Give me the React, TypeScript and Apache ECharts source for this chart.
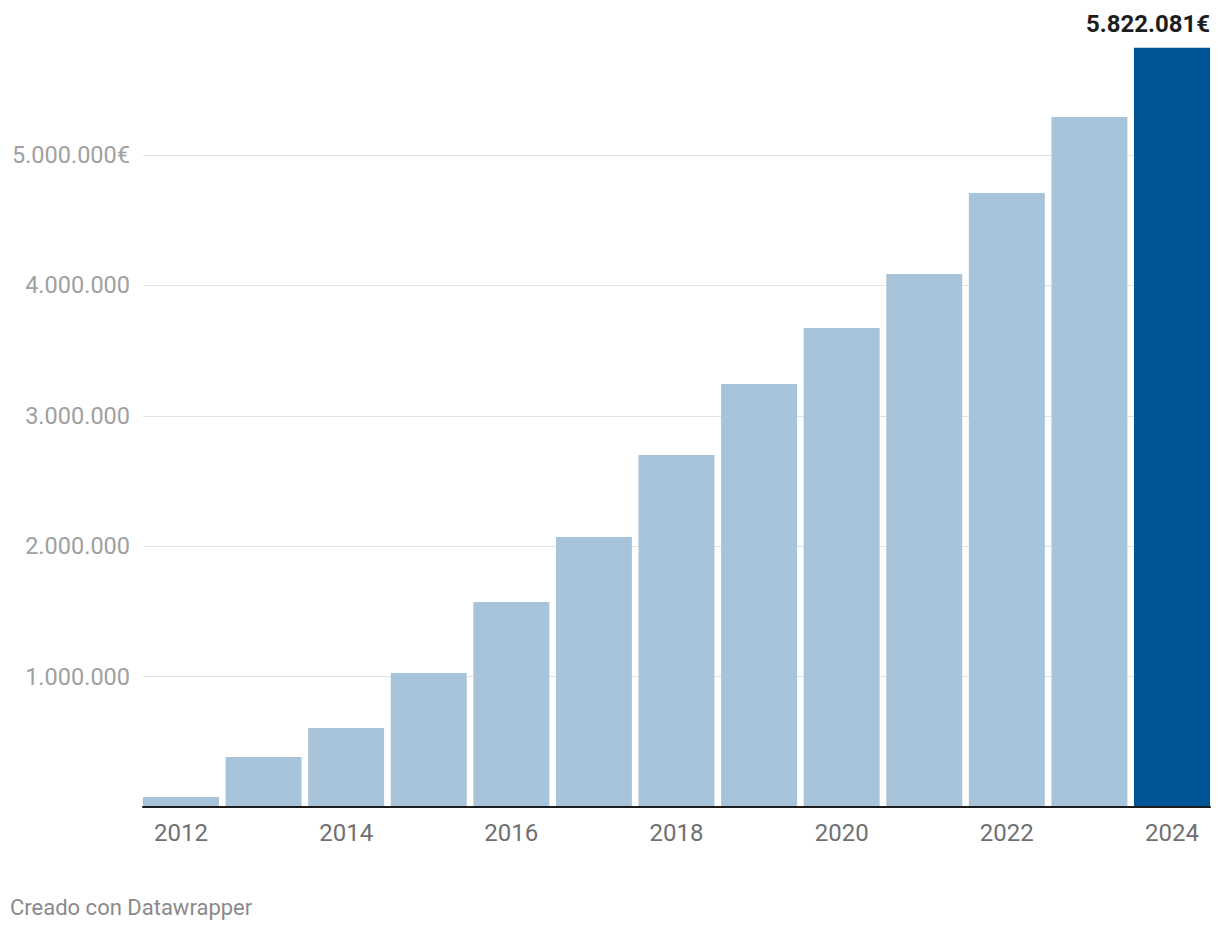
import { useEffect, useRef } from "react";
import * as echarts from "echarts";

const years = ["2012", "2013", "2014", "2015", "2016", "2017", "2018", "2019", "2020", "2021", "2022", "2023", "2024"];
const values = [76000, 383000, 606000, 1028000, 1572000, 2071000, 2699000, 3244000, 3673000, 4087000, 4709000, 5291000, 5822081];
const highlightYear = "2024";
const yMin = 0;
const yMax = 6000000;
const yInterval = 1000000;
const topTickWithUnit = 5000000;
const footerText = "Creado con Datawrapper";

const fmt = (v: number) => String(Math.round(v)).replace(/\B(?=(\d{3})+(?!\d))/g, ".");

export default function App() {
  const ref = useRef<HTMLDivElement>(null);
  useEffect(() => {
    if (!ref.current) return;
    const chart = echarts.init(ref.current, null, { renderer: "svg" });
    const font = "Roboto";
    const top = 24.6;
    const bottom = 123;
    chart.setOption({
      animation: false,
      backgroundColor: "#ffffff",
      textStyle: { fontFamily: font },
      title: {
        text: footerText,
        left: 5,
        top: 891,
        textStyle: { fontSize: 22, fontWeight: "normal", color: "#8a8a8a", fontFamily: font },
      },
      grid: [
        { left: 139.7, right: 6.7, top, bottom },
        { left: 143, right: 10, top, bottom },
      ],
      xAxis: [
        {
          type: "category",
          gridIndex: 0,
          data: years,
          axisLine: { show: false },
          axisTick: { show: false },
          axisLabel: { interval: 1, color: "#707070", fontSize: 24, margin: 14, fontFamily: font },
        },
        {
          type: "category",
          gridIndex: 1,
          data: years,
          z: 5,
          axisLine: { show: true, lineStyle: { color: "#1d1d1d", width: 2 } },
          axisTick: { show: false },
          axisLabel: { show: false },
        },
      ],
      yAxis: [
        { type: "value", gridIndex: 0, min: yMin, max: yMax, show: false, splitLine: { show: false } },
        {
          type: "value",
          gridIndex: 1,
          min: yMin,
          max: yMax,
          interval: yInterval,
          axisLine: { show: false },
          axisTick: { show: false },
          axisLabel: {
            showMinLabel: false,
            showMaxLabel: false,
            color: "#a0a0a0",
            fontSize: 23.5,
            margin: 13,
            fontFamily: font,
            formatter: (v: number) => (v === 0 || v >= yMax ? "" : fmt(v) + (v === topTickWithUnit ? "€" : "")),
          },
          splitLine: {
            show: true,
            showMinLine: false,
            showMaxLine: false,
            lineStyle: { color: "#e2e2e2", width: 1 },
          },
        },
      ],
      series: [
        {
          type: "bar",
          xAxisIndex: 0,
          yAxisIndex: 0,
          barCategoryGap: "8%",
          data: values.map((v, i) => {
            const hl = years[i] === highlightYear;
            return {
              value: v,
              itemStyle: { color: hl ? "#005596" : "#a8c4da" },
              label: hl
                ? {
                    show: true,
                    position: "top",
                    distance: 12,
                    align: "right",
                    offset: [38, 0],
                    formatter: (p: any) => fmt(p.value) + "€",
                    fontSize: 24,
                    fontWeight: "bold",
                    color: "#1d1d1d",
                    fontFamily: font,
                  }
                : { show: false },
            };
          }),
        },
      ],
    });
    return () => chart.dispose();
  }, []);
  return <div ref={ref} style={{ position: "fixed", left: 0, top: 0, width: 1220, height: 930 }} />;
}
